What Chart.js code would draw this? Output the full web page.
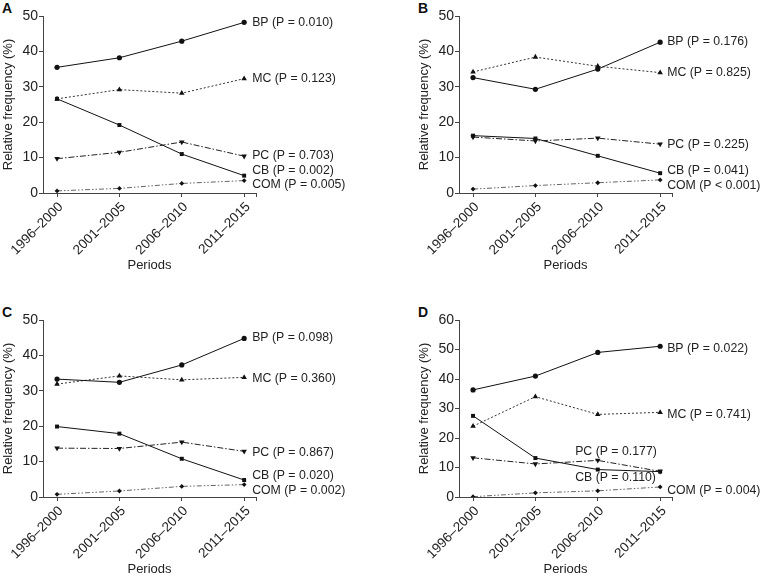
<!DOCTYPE html>
<html>
<head>
<meta charset="utf-8">
<script src="https://cdn.jsdelivr.net/npm/chart.js@4/dist/chart.umd.min.js"></script>
<style>
  html, body { margin: 0; padding: 0; background: #fff; overflow: hidden; width: 762px; height: 575px; }
  .panel { position: absolute; width: 346px; height: 285px; }
  .letter { position: absolute; font: bold 14px "Liberation Sans", Arial, sans-serif; color: #111; }
</style>
</head>
<body>
<div class="letter" style="left:2px;top:0px;">A</div>
<div class="letter" style="left:418px;top:0px;">B</div>
<div class="letter" style="left:2px;top:304px;">C</div>
<div class="letter" style="left:418px;top:304px;">D</div>
<div class="panel" style="left:0;top:0;"><canvas id="cA" width="346" height="285"></canvas></div>
<div class="panel" style="left:416px;top:0;"><canvas id="cB" width="346" height="285"></canvas></div>
<div class="panel" style="left:0;top:304px;"><canvas id="cC" width="346" height="285"></canvas></div>
<div class="panel" style="left:416px;top:304px;"><canvas id="cD" width="346" height="285"></canvas></div>
<script>
// ---------- data ----------
const categories = ['1996–2000', '2001–2005', '2006–2010', '2011–2015'];
const seriesNames = ['BP', 'MC', 'PC', 'CB', 'COM'];

// Panel A
const aBP  = [35.5, 38.2, 42.9, 48.2];
const aMC  = [26.6, 29.2, 28.2, 32.3];
const aPC  = [9.7, 11.5, 14.4, 10.4];
const aCB  = [26.6, 19.2, 11.0, 4.9];
const aCOM = [0.6, 1.3, 2.7, 3.5];
const aLabels = ['BP (P = 0.010)', 'MC (P = 0.123)', 'PC (P = 0.703)', 'CB (P = 0.002)', 'COM (P = 0.005)'];

// Panel B
const bBP  = [32.6, 29.3, 35.0, 42.6];
const bMC  = [34.2, 38.4, 35.8, 34.0];
const bPC  = [15.8, 14.7, 15.5, 13.8];
const bCB  = [16.2, 15.4, 10.5, 5.6];
const bCOM = [1.1, 2.1, 2.9, 3.7];
const bLabels = ['BP (P = 0.176)', 'MC (P = 0.825)', 'PC (P = 0.225)', 'CB (P = 0.041)', 'COM (P < 0.001)'];

// Panel C
const cBP  = [33.3, 32.4, 37.3, 44.8];
const cMC  = [31.9, 34.2, 33.1, 33.8];
const cPC  = [13.8, 13.7, 15.5, 12.9];
const cCB  = [19.9, 17.9, 10.8, 4.8];
const cCOM = [0.75, 1.7, 3.0, 3.5];
const cLabels = ['BP (P = 0.098)', 'MC (P = 0.360)', 'PC (P = 0.867)', 'CB (P = 0.020)', 'COM (P = 0.002)'];

// Panel D
const dBP  = [36.3, 41.0, 49.0, 51.1];
const dMC  = [24.0, 34.0, 28.0, 28.7];
const dPC  = [13.3, 11.2, 12.4, 8.7];
const dCB  = [27.5, 13.2, 9.3, 8.6];
const dCOM = [0.1, 1.4, 2.1, 3.4];
const dLabels = ['BP (P = 0.022)', 'MC (P = 0.741)', 'PC (P = 0.177)', 'CB (P = 0.110)', 'COM (P = 0.004)'];

// y axis tick settings
const yMaxABC = 50;
const yMaxD = 60;
const yMinorStep = 5;
const yLabelStep = 10;

// ---------- styles / layout ----------
const FONT = '"Liberation Sans", Arial, Helvetica, sans-serif';
const TEXT = '#222';
const AXIS = '#444';

const seriesStyles = [
  { borderColor: '#111', borderDash: [], pointStyle: 'circle', pointRadius: 2.6, rotation: 0 },
  { borderColor: '#333', borderDash: [2, 2], pointStyle: 'triangle', pointRadius: 3.2, rotation: 0 },
  { borderColor: '#222', borderDash: [6, 2, 1.5, 2], pointStyle: 'triangle', pointRadius: 3.2, rotation: 180 },
  { borderColor: '#111', borderDash: [], pointStyle: 'rect', pointRadius: 2.8, rotation: 0 },
  { borderColor: '#666', borderDash: [5, 2, 1.5, 2, 1.5, 2], pointStyle: 'rectRot', pointRadius: 2.4, rotation: 0 }
];

// label offsets (px) relative to each series' last point
const offsA = [[8, 0], [8, 0], [8, -1], [8, -5], [8, 4]];
const offsB = [[7, -1], [7, 0], [7, 0], [7, -3], [7, 6]];
const offsC = [[8, -1], [8, 1], [8, 1], [8, -4], [8, 6]];
const offsD = [[7, 2], [7, 2], [-85, -20], [-85, 6], [7, 4]];

const endLabels = {
  id: 'endLabels',
  afterDatasetsDraw(chart, args, opts) {
    const ctx = chart.ctx;
    ctx.save();
    ctx.font = '12.3px ' + FONT;
    ctx.fillStyle = TEXT;
    ctx.textAlign = 'left';
    ctx.textBaseline = 'middle';
    chart.data.datasets.forEach((ds, i) => {
      const meta = chart.getDatasetMeta(i);
      const pt = meta.data[meta.data.length - 1];
      const o = opts.offsets[i];
      ctx.fillText(opts.labels[i], pt.x + o[0], pt.y + o[1]);
    });
    ctx.restore();
  }
};

function makePanel(id, series, labels, offsets, yMax) {
  const datasets = series.map((vals, i) => {
    const s = seriesStyles[i];
    return {
      label: seriesNames[i],
      data: vals.map((v, k) => ({ x: k, y: v })),
      borderColor: s.borderColor,
      borderWidth: 1,
      borderDash: s.borderDash,
      backgroundColor: '#111',
      pointBackgroundColor: '#111',
      pointBorderColor: '#111',
      pointBorderWidth: 0,
      pointStyle: s.pointStyle,
      pointRadius: s.pointRadius,
      pointRotation: s.rotation,
      tension: 0,
      fill: false
    };
  });
  new Chart(document.getElementById(id), {
    type: 'line',
    data: { datasets },
    plugins: [endLabels],
    options: {
      responsive: false,
      animation: false,
      events: [],
      layout: { padding: { top: 16, right: 90, bottom: 8, left: 0 } },
      plugins: {
        legend: { display: false },
        tooltip: { enabled: false },
        endLabels: { labels, offsets }
      },
      scales: {
        x: {
          type: 'linear',
          min: -0.225,
          max: 3.19,
          afterBuildTicks: s => { s.ticks = [0, 1, 2, 3, s.max].map(v => ({ value: v })); },
          afterFit: s => { s.height = 84; },
          ticks: {
            autoSkip: false,
            maxRotation: 45,
            minRotation: 45,
            padding: 2,
            labelOffset: 4,
            color: TEXT,
            font: { family: FONT, size: 13.5 },
            callback: v => (Number.isInteger(v) && categories[v] !== undefined) ? categories[v] : ''
          },
          grid: { drawOnChartArea: false, drawTicks: true, tickLength: 4, color: AXIS, lineWidth: 1 },
          border: { display: true, color: AXIS, width: 1 },
          title: { display: true, text: 'Periods', color: TEXT, font: { family: FONT, size: 13 }, padding: { top: 4, bottom: 4 } }
        },
        y: {
          min: 0,
          max: yMax,
          afterFit: s => { s.width = 43; },
          ticks: {
            stepSize: yMinorStep,
            padding: 1,
            color: TEXT,
            font: { family: FONT, size: 14 },
            callback: v => (v % yLabelStep === 0 ? String(v) : '')
          },
          grid: { drawOnChartArea: false, drawTicks: true, tickLength: 4, color: AXIS, lineWidth: 1 },
          border: { display: true, color: AXIS, width: 1 },
          title: { display: true, text: 'Relative frequency (%)', color: TEXT, font: { family: FONT, size: 13 }, padding: { top: 1, bottom: 0 } }
        }
      }
    }
  });
}

makePanel('cA', [aBP, aMC, aPC, aCB, aCOM], aLabels, offsA, yMaxABC);
makePanel('cB', [bBP, bMC, bPC, bCB, bCOM], bLabels, offsB, yMaxABC);
makePanel('cC', [cBP, cMC, cPC, cCB, cCOM], cLabels, offsC, yMaxABC);
makePanel('cD', [dBP, dMC, dPC, dCB, dCOM], dLabels, offsD, yMaxD);
</script>
</body>
</html>
